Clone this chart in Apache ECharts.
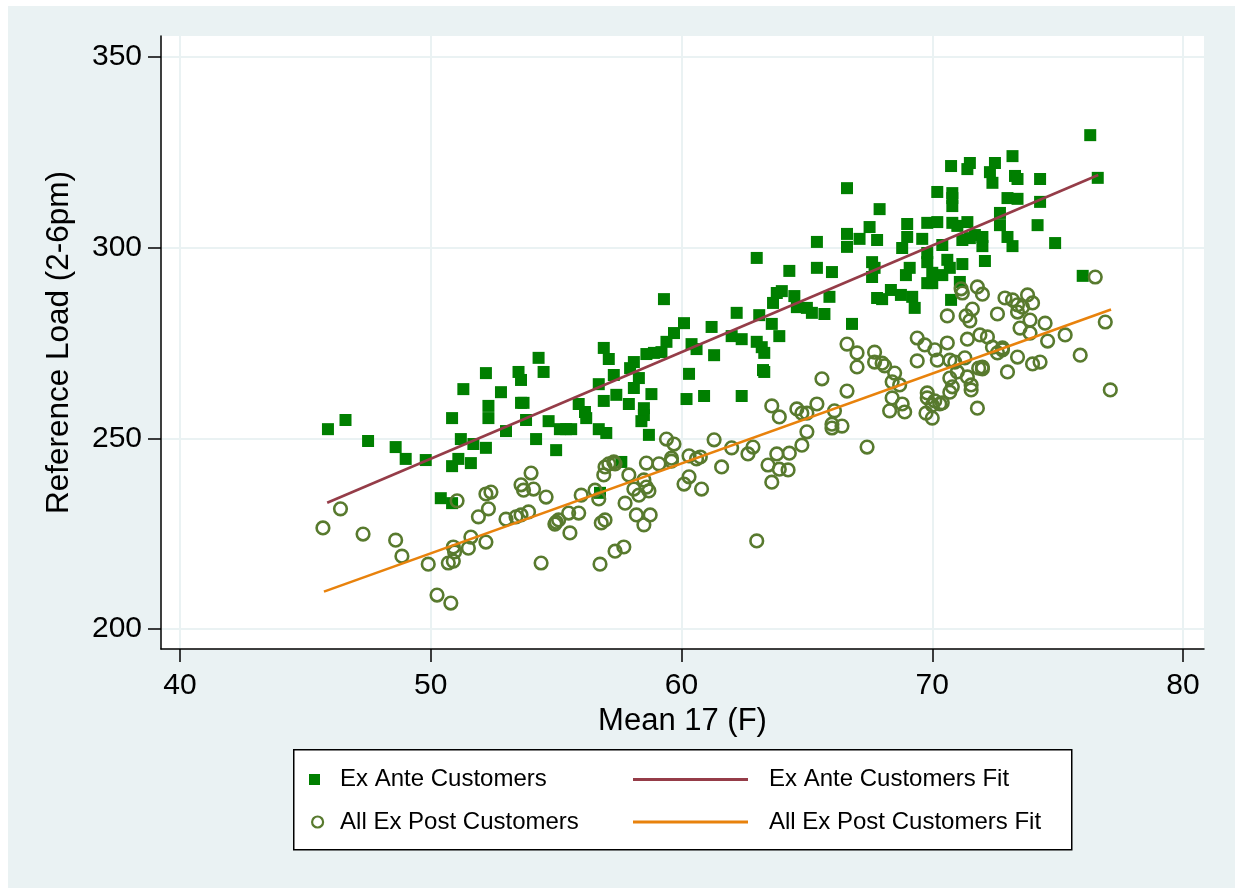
<!DOCTYPE html>
<html>
<head>
<meta charset="utf-8">
<script src="https://cdn.jsdelivr.net/npm/echarts@6/dist/echarts.min.js"></script>
<style>
html,body{margin:0;padding:0;background:#ffffff;}
#chart{position:absolute;left:8px;top:6px;width:1227px;height:882px;}
</style>
</head>
<body>
<div id="chart"></div>
<script>
// ---- data ----
const xTicks = [40, 50, 60, 70, 80];
const yTicks = [200, 250, 300, 350];
const xTitle = 'Mean 17 (F)';
const yTitle = 'Reference Load (2-6pm)';
const seriesNames = ['Ex Ante Customers', 'All Ex Post Customers', 'Ex Ante Customers Fit', 'All Ex Post Customers Fit'];

const exAnte = [
[45.9,252.4],[46.6,254.8],[47.5,249.3],[48.6,247.7],[49.0,244.6],[49.8,244.3],[50.85,255.3],[51.2,249.8],
[51.7,248.5],[51.1,244.6],[50.85,242.7],[51.6,243.5],[52.2,247.5],[51.3,262.9],[52.2,267.1],[52.8,262.1],
[52.3,258.5],[52.3,255.3],[53.0,251.9],[53.5,267.4],[53.6,265.3],[54.5,267.4],[53.6,259.3],[53.7,259.3],
[53.8,254.8],[54.7,254.5],[54.2,249.8],[55.0,246.9],[55.15,252.4],[55.4,252.4],[55.6,252.4],[55.9,259.0],
[50.4,234.3],[50.85,233.0],[54.3,271.1],[56.7,264.2],[57.3,266.6],[58.3,265.8],[57.4,261.4],[56.9,259.8],
[58.1,263.2],[58.8,261.6],[56.15,256.9],[56.2,255.3],[57.9,259.0],[58.5,257.9],[58.5,256.1],[58.4,254.5],
[56.7,252.4],[57.0,251.4],[58.7,250.9],[57.6,243.8],[56.75,235.7],[60.3,266.9],[60.2,260.3],[60.9,261.1],
[63.3,267.4],[62.4,261.1],[65.4,301.5],[63.0,297.3],[64.3,293.9],[65.4,294.7],[66.0,293.6],[59.3,286.5],
[64.0,288.6],[63.8,288.1],[63.65,285.5],[64.5,287.3],[64.6,284.4],[65.0,284.2],[65.2,282.9],[65.7,282.6],
[65.9,287.1],[62.2,282.9],[63.1,282.3],[63.6,280.0],[63.9,276.8],[63.0,275.3],[63.2,273.9],[63.3,272.4],
[63.25,267.9],[60.1,280.2],[59.7,277.6],[59.4,275.3],[59.2,272.6],[58.9,272.4],[58.6,272.1],[61.2,279.2],
[62.0,276.8],[62.4,276.0],[60.4,274.7],[60.6,273.4],[61.3,271.8],[56.9,273.7],[57.1,270.8],[58.1,270.0],
[57.95,268.4],[76.3,329.5],[76.6,318.3],[73.2,324.0],[74.3,318.0],[72.5,322.2],[72.3,319.8],[72.4,317.0],
[71.5,322.2],[71.4,320.6],[70.75,321.4],[73.3,318.8],[73.4,318.0],[70.2,314.6],[70.8,314.3],[70.8,313.0],
[70.8,310.9],[73.0,313.0],[73.4,312.8],[74.3,312.0],[66.6,315.6],[67.9,310.1],[72.7,309.1],[72.7,305.9],
[74.2,305.9],[67.5,305.4],[69.0,306.2],[66.6,303.6],[67.1,302.3],[67.8,302.0],[69.0,302.8],[68.8,299.9],
[69.8,306.5],[70.2,306.7],[70.8,306.5],[71.0,305.7],[71.4,306.7],[69.6,302.3],[70.4,300.7],[71.2,302.0],
[71.5,302.5],[71.7,303.3],[72.0,302.8],[72.0,300.4],[73.0,302.8],[73.2,300.4],[74.9,301.2],[66.6,300.2],
[67.6,296.2],[67.7,294.7],[67.6,292.3],[69.1,294.7],[68.95,292.8],[69.8,298.6],[69.8,296.2],[70.6,296.8],
[70.7,294.7],[70.4,292.8],[71.2,295.7],[72.1,296.5],[70.0,293.4],[69.8,290.7],[70.0,290.7],[71.1,291.0],
[76.0,292.6],[68.35,288.9],[67.8,286.8],[68.0,286.5],[68.75,287.6],[69.2,287.1],[69.3,284.2],[70.75,286.3],
[66.8,280.0]
];

const exPost = [
[46.4,231.5],[45.7,226.5],[47.3,224.9],[48.6,223.3],[48.85,219.1],[49.9,217.0],[50.25,208.9],[50.8,206.8],
[51.05,233.6],[50.9,221.5],[50.95,220.2],[50.7,217.3],[50.9,217.8],[51.6,224.1],[51.5,221.2],[52.2,222.8],
[51.9,229.4],[52.3,231.5],[52.2,235.4],[52.4,235.9],[53.6,237.8],[53.7,236.4],[54.0,240.9],[54.1,236.7],
[54.6,234.6],[53.0,228.8],[53.4,229.4],[53.6,229.9],[53.9,230.7],[54.4,217.3],[55.0,228.0],[54.95,227.5],
[55.1,228.6],[55.55,225.2],[55.5,230.4],[55.9,230.4],[56.0,235.1],[59.4,249.8],[59.7,248.5],[59.6,244.8],
[59.6,244.0],[59.1,243.3],[58.6,243.5],[57.9,240.4],[56.9,240.4],[56.95,242.5],[57.1,243.3],[57.3,243.8],
[57.35,243.3],[56.55,236.4],[56.7,234.1],[56.8,227.8],[56.95,228.6],[57.75,233.0],[58.1,236.7],[58.3,235.1],
[58.5,239.1],[58.6,237.2],[58.7,236.2],[58.2,229.9],[58.5,227.3],[58.75,229.9],[57.35,220.4],[57.7,221.5],
[56.75,217.0],[60.3,245.4],[60.6,244.6],[60.75,245.1],[60.3,239.9],[60.1,238.0],[60.8,236.7],[61.3,249.6],
[61.6,242.5],[62.0,247.5],[62.65,245.9],[62.85,247.7],[63.0,223.1],[63.45,243.0],[63.8,245.9],[63.6,238.5],
[63.9,241.9],[64.25,241.7],[64.3,246.1],[64.8,248.2],[65.0,251.7],[63.6,258.5],[63.9,255.6],[64.6,257.7],
[64.8,256.6],[65.0,256.6],[65.4,259.0],[65.6,265.6],[66.1,257.2],[66.0,253.7],[66.0,252.7],[66.4,253.2],
[76.5,292.3],[76.9,280.5],[77.1,262.7],[75.9,271.8],[75.3,277.1],[74.6,275.5],[74.5,280.2],[73.9,281.0],
[73.9,277.6],[73.5,278.9],[74.0,285.5],[73.8,287.6],[73.6,284.4],[73.4,283.1],[73.4,285.0],[72.9,286.8],
[73.2,286.3],[72.6,282.6],[73.4,271.3],[74.0,269.5],[74.3,270.0],[73.0,267.4],[72.8,273.2],[72.6,272.4],
[72.4,273.9],[72.8,273.7],[72.2,276.6],[71.9,277.1],[71.4,276.0],[72.0,268.7],[72.0,268.2],[71.85,268.4],
[71.8,289.7],[72.0,287.8],[71.15,289.2],[71.2,288.1],[71.6,283.9],[71.35,282.1],[71.5,280.8],[70.6,282.1],
[70.6,275.0],[71.3,271.1],[70.7,270.5],[70.9,270.0],[70.1,273.2],[70.2,270.5],[69.7,274.5],[69.4,276.3],
[69.4,270.3],[71.0,267.4],[70.7,265.8],[71.4,266.1],[71.55,264.0],[71.55,262.7],[70.8,263.5],[70.7,262.1],
[71.8,257.9],[69.8,261.9],[69.8,260.6],[70.1,259.8],[70.3,259.0],[70.4,259.3],[70.0,258.7],[69.75,256.6],
[70.0,255.3],[68.5,267.1],[68.4,264.8],[68.7,264.0],[67.7,272.6],[67.7,270.0],[68.0,269.7],[68.1,269.0],
[66.6,274.7],[67.0,272.4],[67.0,268.7],[68.4,260.6],[68.8,259.0],[68.9,256.9],[68.3,257.2],[66.6,262.4],
[67.4,247.7]
];

const exAnteFit = [[45.87, 233.1], [76.62, 319.05]];
const exPostFit = [[45.74, 209.8], [77.13, 283.8]];

// ---- chart ----
const FONT = '"Liberation Sans", Arial, Helvetica, sans-serif';
const RED = '#953c48';
const ORANGE = '#e8820c';
const GREEN = '#007f00';
const OLIVE = '#587a2e';
const chart = echarts.init(document.getElementById('chart'), null, {renderer: 'canvas'});

function legendItem(name, left, top, iw, ih, pad, extra) {
  return Object.assign({
    data: [name], left: left, top: top, orient: 'vertical', padding: 0,
    itemWidth: iw, itemHeight: ih, selectedMode: false,
    textStyle: {fontFamily: FONT, fontSize: 24, color: '#000', lineHeight: 30, padding: [0, 0, 0, pad]}
  }, extra || {});
}

const option = {
  backgroundColor: '#eaf2f3',
  animation: false,
  grid: {left: 153, top: 30, right: 31, bottom: 239, show: true, backgroundColor: '#ffffff', borderWidth: 0, containLabel: false, outerBoundsMode: 'none'},
  xAxis: {
    type: 'value', min: 39.242, max: 80.837,
    name: xTitle, nameLocation: 'middle', nameGap: 50,
    nameTextStyle: {fontFamily: FONT, fontSize: 31, color: '#000'},
    axisLine: {show: true, onZero: false, lineStyle: {color: '#000', width: 1.5}},
    axisTick: {show: true, length: 13, lineStyle: {color: '#000', width: 1.5}, customValues: xTicks},
    axisLabel: {fontFamily: FONT, fontSize: 30, color: '#000', margin: 22, customValues: xTicks, formatter: v => String(v)},
    splitLine: {show: true, lineStyle: {color: '#eaf2f3', width: 2}}
  },
  yAxis: {
    type: 'value', min: 194.75, max: 355.5,
    name: yTitle, nameLocation: 'middle', nameGap: 86,
    nameTextStyle: {fontFamily: FONT, fontSize: 31.5, color: '#000'},
    axisLine: {show: true, onZero: false, lineStyle: {color: '#000', width: 1.5}},
    axisTick: {show: true, length: 13, lineStyle: {color: '#000', width: 1.5}, customValues: yTicks},
    axisLabel: {fontFamily: FONT, fontSize: 30, color: '#000', margin: 19, customValues: yTicks, formatter: v => String(v)},
    splitLine: {show: true, lineStyle: {color: '#eaf2f3', width: 2}}
  },
  graphic: [{
    type: 'rect', left: 285, top: 743, z: 0,
    shape: {width: 778, height: 100},
    style: {fill: '#ffffff', stroke: '#000000', lineWidth: 1.5}
  }],
  legend: [
    legendItem(seriesNames[0], 301, 758.5, 11, 11, 15),
    legendItem(seriesNames[1], 303, 801, 11, 11, 12, {itemStyle: {color: 'rgba(0,0,0,0)', borderColor: OLIVE, borderWidth: 2.2, opacity: 1}}),
    legendItem(seriesNames[2], 625, 758.5, 115, 3, 16, {icon: 'rect', itemStyle: {color: RED, opacity: 1}}),
    legendItem(seriesNames[3], 625, 801, 115, 3, 16, {icon: 'rect', itemStyle: {color: ORANGE, opacity: 1}})
  ],
  series: [
    {name: seriesNames[0], type: 'scatter', data: exAnte, symbol: 'rect', symbolSize: 12,
     itemStyle: {color: GREEN, opacity: 1}, z: 2},
    {name: seriesNames[1], type: 'scatter', data: exPost, symbol: 'circle', symbolSize: 12.6,
     itemStyle: {color: 'rgba(0,0,0,0)', borderColor: OLIVE, borderWidth: 2.6, opacity: 1}, z: 3},
    {name: seriesNames[2], type: 'line', data: exAnteFit, symbol: 'none', showSymbol: false,
     lineStyle: {color: RED, width: 2.6}, itemStyle: {color: RED}, z: 4},
    {name: seriesNames[3], type: 'line', data: exPostFit, symbol: 'none', showSymbol: false,
     lineStyle: {color: ORANGE, width: 2.6}, itemStyle: {color: ORANGE}, z: 5}
  ]
};
chart.setOption(option);
</script>
</body>
</html>
